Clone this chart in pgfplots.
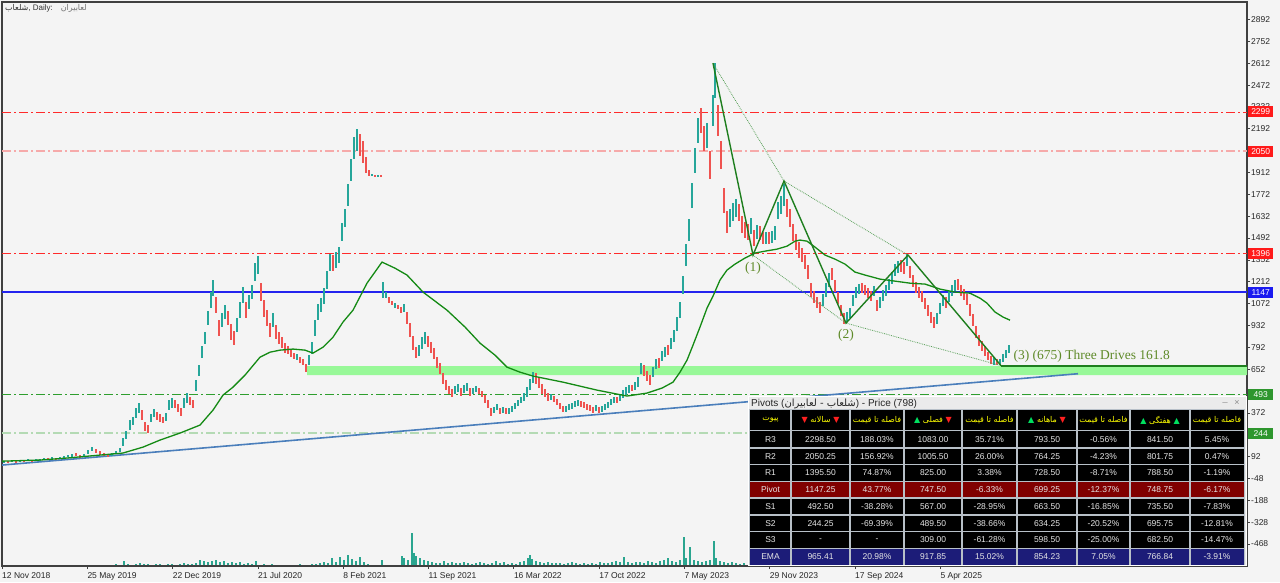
\documentclass[border=0pt]{standalone}
\usepackage{pgfplots}
\pgfplotsset{compat=1.18}
\usepackage{pgfplotstable}
\usepackage{fontspec}
\setmainfont{Liberation Sans}
\newfontfamily\fa[Script=Arabic]{DejaVu Sans}
\newfontfamily\dv{DejaVu Sans}
\newfontfamily\tms{Liberation Serif}
\TeXXeTstate=1

\definecolor{bg}{HTML}{F4F4F4}
\definecolor{framec}{HTML}{404040}
\definecolor{upc}{HTML}{26A69A}
\definecolor{dnc}{HTML}{EF5350}
\definecolor{volc}{HTML}{2AA58F}
\definecolor{redl}{HTML}{FF2A2A}
\definecolor{pinkl}{HTML}{F6AAAA}
\definecolor{bluel}{HTML}{2323EE}
\definecolor{greenl}{HTML}{2E9E2E}
\definecolor{pgreenl}{HTML}{B4DAB4}
\definecolor{band}{HTML}{98F898}
\definecolor{emac}{HTML}{148A14}
\definecolor{patc}{HTML}{1E7E1E}
\definecolor{dotc}{HTML}{5AA05A}
\definecolor{trend}{HTML}{4A7EBB}
\definecolor{lblc}{HTML}{5E8A28}
\definecolor{boxred}{HTML}{FF1A1A}
\definecolor{boxblue}{HTML}{1A1AF0}
\definecolor{boxgreen}{HTML}{2E962E}
\definecolor{tgrid}{HTML}{B8C0C8}
\definecolor{pivrow}{HTML}{800000}
\definecolor{emarow}{HTML}{1C1C78}
\definecolor{celltxt}{HTML}{E6E6E6}
\definecolor{hdrtxt}{HTML}{FFFF00}
\definecolor{triup}{HTML}{00E060}
\definecolor{tridn}{HTML}{FF2020}

% daily candles: x position, mid price, half range, direction (1 up, 0 down)
\pgfplotstableread{
x y e d
4 57 8 1
8 57 8 0
12 63 8 1
16 57 8 0
20 63 8 1
24 63 8 0
28 70 8 1
32 63 8 0
36 70 8 1
40 70 8 1
44 76 8 1
48 76 8 0
52 83 8 1
56 76 8 0
60 83 8 1
64 89 8 1
68 95 8 1
72 102 10 1
76 108 10 0
80 95 10 0
84 102 10 1
88 121 12 1
92 140 12 1
96 127 12 0
100 115 10 0
104 108 10 0
108 102 10 0
112 108 10 1
116 121 10 1
120 134 12 1
123 185 25 1
126 230 25 1
130 294 30 1
133 319 25 1
136 371 30 1
139 403 30 1
142 358 30 0
145 287 30 0
148 268 25 0
151 339 25 1
154 371 25 1
157 351 25 0
160 339 25 0
163 326 20 0
166 345 25 1
169 422 30 1
172 435 30 1
175 428 25 0
178 403 25 0
181 377 25 0
184 435 30 1
187 467 30 1
190 448 25 0
193 428 25 0
196 550 35 1
199 646 35 1
202 761 40 1
205 851 40 1
208 979 45 1
211 1094 50 1
213 1171 50 1
216 1062 50 0
219 915 50 0
222 966 45 1
225 1018 45 1
228 979 45 0
231 890 50 0
234 851 45 0
237 934 45 1
240 1030 50 1
243 1126 50 1
246 1030 50 0
249 1082 45 1
252 1146 45 1
255 1274 55 1
258 1319 60 1
261 1146 60 0
264 1043 55 0
267 979 50 0
270 902 45 0
273 966 45 1
276 890 45 0
279 851 40 0
282 825 35 0
285 787 30 0
288 774 25 0
291 755 25 0
294 736 20 0
297 729 20 1
300 710 20 0
303 697 20 0
306 659 25 0
309 710 30 1
312 787 40 1
315 915 50 1
318 1018 50 1
321 1062 45 1
324 1120 50 1
327 1223 55 1
330 1338 55 1
333 1332 50 0
336 1351 50 1
339 1383 50 1
342 1530 60 1
345 1620 60 1
348 1767 70 1
351 1927 70 1
354 2068 70 1
357 2119 70 1
360 2087 70 0
363 2042 70 0
366 1959 50 0
369 1908 20 0
372 1895 8 1
375 1889 6 0
378 1889 6 1
381 1889 6 0
383 1159 50 1
386 1126 20 1
389 1094 20 0
392 1075 15 0
395 1062 15 1
398 1050 15 0
401 1030 20 0
404 1043 25 1
407 979 40 0
410 902 45 0
413 819 45 0
416 761 35 0
419 774 35 1
422 819 40 1
425 851 40 1
428 832 35 0
431 793 35 0
434 755 35 0
437 697 35 0
440 659 35 0
443 595 35 0
446 550 30 0
449 518 25 0
452 499 25 0
455 518 25 1
458 531 25 1
461 505 25 0
464 524 25 1
467 537 25 1
470 505 25 0
473 512 20 1
476 524 20 1
479 512 20 0
482 492 20 0
485 460 25 0
488 428 25 0
491 377 25 0
494 390 20 1
497 409 20 1
500 384 20 0
503 390 20 1
506 384 20 0
509 384 20 1
512 396 20 1
515 416 20 1
518 435 20 1
521 454 20 1
524 473 25 1
527 505 30 1
530 556 35 1
533 601 35 1
536 595 35 0
539 563 30 0
542 524 30 0
545 499 25 0
548 473 25 0
551 473 20 1
554 460 20 0
557 441 20 0
560 416 20 0
563 396 20 0
566 396 20 1
569 409 20 1
572 416 20 1
575 428 20 1
578 435 20 1
581 428 20 0
584 422 20 0
587 409 20 0
590 403 20 0
593 390 20 0
596 403 20 1
599 390 20 0
602 396 20 1
605 409 20 1
608 422 20 1
611 441 20 1
614 454 20 1
617 454 20 0
620 467 20 1
623 492 25 1
626 512 25 1
629 524 25 1
632 531 20 0
635 544 25 1
638 569 30 1
641 659 35 1
644 646 35 0
647 608 30 0
650 582 30 0
653 633 30 1
656 685 30 1
659 691 30 0
662 736 30 1
665 761 30 1
668 774 30 0
671 819 35 1
674 864 40 1
677 941 45 1
680 1030 50 1
683 1191 60 1
686 1383 70 1
689 1543 70 1
692 1767 80 1
695 1991 80 1
698 2183 80 1
701 2247 80 0
704 2132 80 0
707 2151 80 1
710 1959 90 0
713 2311 100 1
715 2500 110 1
718 2247 100 0
721 2023 90 0
724 1735 80 0
727 1594 70 0
730 1620 60 1
733 1658 60 1
736 1684 60 1
739 1658 55 0
742 1581 55 0
745 1543 50 0
748 1530 50 0
751 1568 50 1
754 1492 50 0
757 1530 45 1
760 1524 45 0
763 1492 40 0
766 1492 40 1
769 1492 40 0
772 1498 40 1
775 1524 45 1
778 1671 55 1
781 1703 60 1
784 1767 70 1
787 1684 60 0
790 1620 60 0
793 1530 55 0
796 1466 50 0
799 1415 50 0
802 1383 45 0
805 1338 45 0
808 1274 45 0
811 1159 45 0
814 1114 40 0
817 1082 35 0
820 1050 35 0
823 1094 40 1
826 1159 45 1
829 1223 45 1
832 1261 40 0
835 1184 40 0
838 1107 40 0
841 1030 35 0
844 979 35 0
847 986 30 1
850 1011 30 1
853 1094 35 1
856 1146 35 1
859 1165 30 1
862 1171 30 0
865 1159 30 0
868 1139 30 0
871 1120 30 0
874 1152 30 1
877 1062 35 0
880 1082 35 1
883 1126 35 1
886 1159 35 1
889 1197 35 1
892 1235 40 1
895 1287 40 1
898 1306 40 1
901 1312 40 0
904 1299 40 0
907 1351 40 1
910 1274 40 0
913 1216 40 0
916 1178 35 0
919 1146 35 0
922 1120 35 0
925 1075 35 0
928 1030 35 0
931 986 35 0
934 954 35 0
937 979 35 1
940 1043 35 1
943 1094 35 1
946 1082 35 0
949 1120 35 1
952 1159 35 1
955 1191 35 1
958 1197 35 0
961 1159 35 0
964 1133 35 0
967 1101 35 0
970 1030 40 0
973 966 40 0
976 890 40 0
979 838 35 0
982 800 30 0
985 768 30 0
988 736 25 0
991 710 25 0
994 704 25 1
997 697 20 0
1000 697 20 1
1003 723 25 1
1006 749 25 1
1009 780 25 1
}\candles

\newcommand\tk{\fontsize{8.5}{10}\selectfont}

\begin{document}
\begin{tikzpicture}[x=1pt,y=1pt]
\fill[bg] (0,0) rectangle (1280,582);

% volume
\begin{axis}[at={(2,16)}, anchor=south west, width=1245pt, height=564pt,
  scale only axis, xmin=2, xmax=1247, ymin=0, ymax=564, hide axis]
\addplot[ycomb, color=volc, line width=1.6pt, mark=none] coordinates {
(30,1) (45,1) (60,1) (75,1) (90,1) (100,1) (108,1)
(116,2) (120,1) (124,5) (128,2) (132,1) (136,2) (140,3) (144,2) (148,2) (152,1)
(156,2) (160,2) (164,1) (168,2) (172,2) (176,1) (180,2) (184,3) (188,2) (192,2)
(196,3) (200,6) (204,5) (208,4) (212,5) (216,6) (220,4) (224,5) (228,3) (232,4)
(236,3) (240,4) (244,2) (248,3) (252,2) (256,5) (260,1) (264,2) (268,1) (272,2)
(276,1) (280,1) (284,1) (288,1) (292,1) (296,1) (300,2) (304,1) (308,1) (312,2)
(316,2) (320,3) (324,4) (328,3) (332,8) (336,4) (340,9) (344,6) (348,11) (352,7)
(356,5) (360,9) (364,4) (368,2) (382,6) (402,10) (404,8) (408,6) (412,33) (414,13)
(416,10) (420,8) (424,6) (428,5) (432,4) (436,3) (440,3) (444,5) (448,3) (452,4)
(456,3) (460,3) (464,4) (468,3) (472,2) (476,3) (480,4) (484,3) (488,2) (492,3)
(496,5) (500,3) (504,4) (508,2) (512,3) (516,2) (520,4) (524,5) (528,8) (530,11)
(532,7) (536,5) (540,4) (544,3) (548,4) (552,3) (556,3) (560,3) (564,2) (568,3)
(572,4) (576,3) (580,2) (584,3) (588,2) (592,3) (596,2) (600,4) (604,3) (608,3)
(612,4) (616,5) (620,4) (624,9) (628,4) (632,3) (636,4) (640,4) (644,3) (648,5)
(652,4) (656,3) (660,5) (664,6) (668,8) (672,5) (676,4) (680,6) (684,29) (686,8)
(690,19) (694,6) (698,5) (702,4) (706,5) (710,6) (714,25) (716,8) (720,5) (724,4)
(728,3) (732,4) (736,3) (740,2) (744,3)};
\end{axis}

% price (at= found by trial so that the box lands on the frame)
\begin{axis}[at={(2,10.2)}, anchor=south west, width=1245pt, height=564pt,
  scale only axis, xmin=2, xmax=1247, ymin=-609, ymax=3003.4,
  axis line style={draw=framec, line width=1.2pt},
  ytick={-468,-328,-188,-48,92,232,372,512,652,792,932,1072,1212,1352,1492,1632,1772,1912,2052,2192,2332,2472,2612,2752,2892},
  yticklabels={-468,-328,-188,-48,92,,372,,652,792,932,1072,1212,1352,1492,1632,1772,1912,,2192,2332,2472,2612,2752,2892},
  ytick pos=right, yticklabel pos=right,
  xtick={2,87.3,172.6,257.9,343.2,428.5,513.8,599.1,684.4,769.7,855,940.3},
  xticklabels={12 Nov 2018,25 May 2019,22 Dec 2019,21 Jul 2020,8 Feb 2021,
    11 Sep 2021,16 Mar 2022,17 Oct 2022,7 May 2023,29 Nov 2023,17 Sep 2024,5 Apr 2025},
  xtick pos=bottom, tick align=outside, major tick length=3pt,
  tick style={draw=framec, line width=0.8pt},
  yticklabel style={font=\tk, text=black!85, anchor=west, inner sep=0pt, xshift=1pt},
  xticklabel style={font=\tk, text=black!85, anchor=north west, inner sep=0pt, yshift=-3pt},
  clip=true]

% horizontal pivot levels
\addplot[redl, line width=1pt, dash pattern=on 9pt off 3pt on 2pt off 3pt] coordinates {(2,2299) (1247,2299)};
\addplot[pinkl, line width=2pt, dash pattern=on 9pt off 3pt on 2pt off 3pt] coordinates {(2,2050) (1247,2050)};
\addplot[redl, line width=1pt, dash pattern=on 9pt off 3pt on 2pt off 3pt] coordinates {(2,1396) (1247,1396)};
\addplot[bluel, line width=2.6pt] coordinates {(2,1147) (1247,1147)};
\addplot[greenl, line width=1pt, dash pattern=on 9pt off 3pt on 2pt off 3pt] coordinates {(2,493) (1247,493)};
\addplot[pgreenl, line width=2pt, dash pattern=on 9pt off 3pt on 2pt off 3pt] coordinates {(2,244) (1247,244)};

% support zone
\addplot[draw=none, fill=band] coordinates {(307,614) (1247,614) (1247,672) (307,672) (307,614)};

% trend line
\addplot[trend, line width=1.6pt] coordinates {(2,38) (1078,623)};

% candles
\addplot[draw=none, mark=none, error bars/.cd, y dir=both, y explicit, error mark=none,
  error bar style={line width=1.5pt, draw=upc, solid}]
  table[x=x, y=y, y error=e, restrict expr to domain={\thisrow{d}}{1:1}] {\candles};
\addplot[draw=none, mark=none, error bars/.cd, y dir=both, y explicit, error mark=none,
  error bar style={line width=1.5pt, draw=dnc, solid}]
  table[x=x, y=y, y error=e, restrict expr to domain={\thisrow{d}}{0:0}] {\candles};

% moving average
\addplot[emac, line width=1.3pt] coordinates {
(2,63) (40,70) (67,83) (100,102) (123,115) (143,153) (160,198) (180,243) (200,294)
(213,390) (223,486) (233,537) (245,614) (260,729) (270,761) (280,774) (293,781)
(305,774) (313,755) (323,793) (333,857) (343,954) (353,1030) (367,1203) (382,1338)
(395,1299) (407,1255) (423,1146) (447,1030) (465,922) (480,819) (495,742) (507,665)
(520,633) (533,608) (563,569) (597,518) (627,480) (647,499) (662,531) (673,569)
(680,633) (687,710) (693,806) (700,922) (707,1043) (713,1120) (720,1223) (727,1287)
(735,1325) (745,1364) (755,1396) (765,1408) (777,1421) (787,1440) (795,1472)
(800,1479) (807,1472) (815,1434) (825,1383) (835,1357) (845,1325) (855,1274)
(865,1255) (880,1229) (895,1216) (910,1203) (925,1197) (940,1165) (955,1146)
(970,1139) (980,1107) (987,1075) (995,1018) (1003,986) (1010,966)};

% three drives pattern
\addplot[dotc, line width=0.8pt, densely dotted] coordinates {(713,2612) (784,1857) (908,1383)};
\addplot[dotc, line width=0.8pt, densely dotted] coordinates {(753,1383) (846,947) (1001,675)};
\addplot[patc, line width=1.4pt] coordinates {(713,2612) (753,1383) (784,1857) (846,947) (908,1383) (1001,675)};
\addplot[patc, line width=1.8pt] coordinates {(1001,675) (1247,675)};

\node[text=lblc, font=\tms\fontsize{13.5}{14}\selectfont] at (axis cs:753,1300) {(1)};
\node[text=lblc, font=\tms\fontsize{13.5}{14}\selectfont] at (axis cs:846,868) {(2)};
\node[text=lblc, font=\tms\fontsize{13.5}{14}\selectfont, anchor=west] at (axis cs:1010,735) {(3) (675) Three Drives 161.8};
\end{axis}

\begin{scope}[yshift=582pt, y=-1pt]
% title
\node[anchor=west, inner sep=0pt, font=\fontsize{8}{9}\selectfont, text=black!80] at (5,8)
  {{\fa\beginR شلعاب\endR}, Daily:\quad{\color{black!55}\fa\beginR لعابیران\endR}};

% price boxes on the right scale
\foreach \py/\txt/\cc in {112/2299/boxred, 151.5/2050/boxred, 253.5/1396/boxred,
  292.3/1147/boxblue, 394.3/493/boxgreen, 433.3/244/boxgreen}
  \node[fill=\cc, text=white, anchor=west, inner xsep=1.5pt, inner ysep=0pt,
    minimum height=11pt, minimum width=25pt, font=\tk] at (1248,\py) {\txt};

% pivots table
\fill[black!8] (748,396) rectangle (1246.4,566);
\draw[white] (748.5,396.5) rectangle (1246,565.5);
\node[anchor=west, inner sep=0pt, font=\fontsize{10}{11}\selectfont, text=black!85] at (751,403.5)
  {Pivots ({\fa\beginR شلعاب - لعابیران\endR}) - Price (798)};
\node[font=\fontsize{9}{9}\selectfont, text=black!45] at (1225,402) {\_};
\node[font=\fontsize{9}{9}\selectfont, text=black!45] at (1237,403) {×};

\fill[tgrid] (749,409) rectangle (1245,565);
\fill[black] (750,410) rectangle (1244,481);
\fill[pivrow] (750,481.25) rectangle (1244,497.5);
\fill[black] (750,497.5) rectangle (1244,548);
\fill[emarow] (750,548.25) rectangle (1244,564.5);
\foreach \gx in {791,850,904,962,1017,1077,1130,1190}
  \draw[tgrid, line width=1.5pt] (\gx,410) -- (\gx,564.5);
\foreach \gy in {430.5,447.75,464.5,481.25,498,514.75,531.5,548.25}
  \draw[tgrid, line width=1.5pt] (750,\gy) -- (1244,\gy);

% header
\begin{scope}[every node/.style={text=hdrtxt, font=\fa\fontsize{8}{9}\selectfont, inner sep=0pt}]
\node at (770.5,420) {\beginR پیوت\endR};
\node at (820.5,420) {{\dv\color{tridn}▼}\,\,\beginR سالانه\endR\,\,{\dv\color{tridn}▼}};
\node at (877,420) {\beginR فاصله تا قیمت\endR};
\node at (933,420) {{\dv\color{triup}▲}\,\,\beginR فصلی\endR\,\,{\dv\color{tridn}▼}};
\node at (989.5,420) {\beginR فاصله تا قیمت\endR};
\node at (1047,420) {{\dv\color{triup}▲}\,\,\beginR ماهانه\endR\,\,{\dv\color{tridn}▼}};
\node at (1103.5,420) {\beginR فاصله تا قیمت\endR};
\node at (1160,420) {{\dv\color{triup}▲}\,\,\beginR هفتگی\endR\,\,{\dv\color{triup}▲}};
\node at (1217,420) {\beginR فاصله تا قیمت\endR};
\end{scope}

% body
\foreach \va/\vb/\vc/\vd/\ve/\vf/\vg/\vh/\vi [count=\ri from 0] in {
  R3/2298.50/188.03\%/1083.00/35.71\%/793.50/-0.56\%/841.50/5.45\%,
  R2/2050.25/156.92\%/1005.50/26.00\%/764.25/-4.23\%/801.75/0.47\%,
  R1/1395.50/74.87\%/825.00/3.38\%/728.50/-8.71\%/788.50/-1.19\%,
  Pivot/1147.25/43.77\%/747.50/-6.33\%/699.25/-12.37\%/748.75/-6.17\%,
  S1/492.50/-38.28\%/567.00/-28.95\%/663.50/-16.85\%/735.50/-7.83\%,
  S2/244.25/-69.39\%/489.50/-38.66\%/634.25/-20.52\%/695.75/-12.81\%,
  S3/-/-/309.00/-61.28\%/598.50/-25.00\%/682.50/-14.47\%,
  EMA/965.41/20.98\%/917.85/15.02\%/854.23/7.05\%/766.84/-3.91\%}
{
  \pgfmathsetmacro\ry{439.4+\ri*16.75}
  \begin{scope}[every node/.style={text=celltxt, font=\fontsize{8.5}{9}\selectfont, inner sep=0pt}]
  \node at (770.5,\ry) {\va};
  \node at (820.5,\ry) {\vb};
  \node at (877,\ry) {\vc};
  \node at (933,\ry) {\vd};
  \node at (989.5,\ry) {\ve};
  \node at (1047,\ry) {\vf};
  \node at (1103.5,\ry) {\vg};
  \node at (1160,\ry) {\vh};
  \node at (1217,\ry) {\vi};
  \end{scope}
}
\end{scope}
\pgfresetboundingbox
\path[use as bounding box] (0,0) rectangle (1280,582);
\end{tikzpicture}
\end{document}
